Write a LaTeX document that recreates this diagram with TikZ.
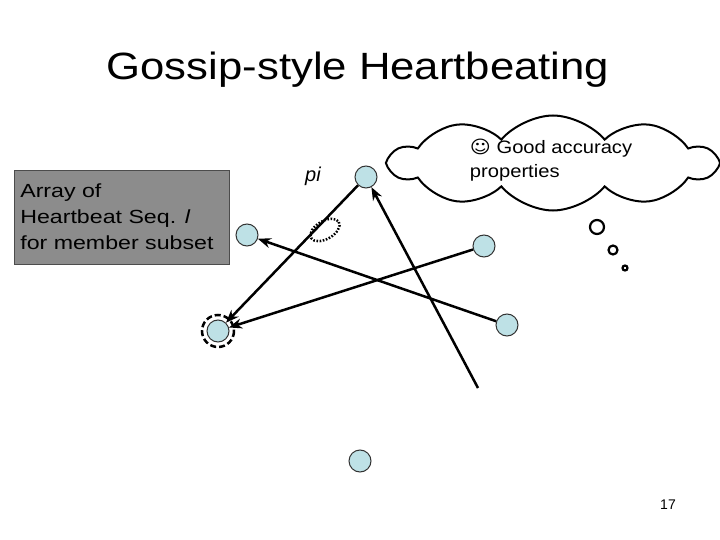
\documentclass[tikz,border=0pt]{standalone}
\usepackage{fontspec}
\setmainfont{Liberation Sans}
\newfontfamily\dejavu{DejaVu Sans}
\usetikzlibrary{shapes.symbols,arrows.meta}
\definecolor{memfill}{RGB}{190,225,230}
\begin{document}
\begin{tikzpicture}[x=1pt,y=-1pt,
  mem/.style={circle,draw=black!80,fill=memfill,minimum size=22pt,inner sep=0pt,line width=1pt},
  arr/.style={-{Stealth[length=13pt,width=10pt]},line width=2.5pt},
  bub/.style={draw,line width=2.2pt}]
\useasboundingbox (0,0) rectangle (720,540);
\node[xscale=1.15,font=\fontsize{38}{44}\selectfont] (title) at (358,70) {Gossip-style Heartbeating};
\node[fill=black!45,draw=black!70,line width=1pt,minimum width=215pt,minimum height=94pt,anchor=north west] (box) at (14,170) {};
\node[xscale=1.22,anchor=west,align=left,font=\fontsize{19}{26}\selectfont] (bt) at (16,217)
 {Array of\\Heartbeat Seq. \textit{l}\\for member subset};
\node[font=\fontsize{20}{24}\selectfont\itshape] (pil) at (313,176) {pi};
\node[mem] (pi) at (366,177) {};
\node[mem] (a) at (247,235) {};
\node[mem] (b) at (484,246) {};
\node[mem] (c) at (507,325) {};
\node[mem] (d) at (218,331) {};
\node[mem] (e) at (360,461) {};
\coordinate (free) at (478,388);
\draw[line width=2.5pt,dash pattern=on 6pt off 3pt] (d) circle (16);
\draw[line width=2.5pt,dash pattern=on 1.6pt off 1.6pt,rotate around={30:(325,230)}] (325,230) ellipse (16 and 9);
\draw[arr] (pi) -- (d);
\draw[arr] (b) -- (d);
\draw[arr] (c) -- (a);
\draw[arr] (free) -- (pi);
\node[cloud,cloud puffs=10,cloud puff arc=100,aspect=3.3,draw,line width=2pt,minimum width=325pt,minimum height=95pt] (cl) at (553,163) {};
\node[xscale=1.12,align=left,anchor=west,font=\fontsize{18}{24}\selectfont] (ct) at (466,160) {{\dejavu ☺} Good accuracy\\properties};
\node[bub,circle,minimum size=14pt,inner sep=0pt] (b1) at (597,227) {};
\node[bub,circle,minimum size=9pt,inner sep=0pt] (b2) at (613,250) {};
\node[bub,circle,minimum size=5pt,inner sep=0pt] (b3) at (625,268) {};
\node[font=\fontsize{14}{16}\selectfont] (pg) at (668,505) {17};
\end{tikzpicture}
\end{document}
